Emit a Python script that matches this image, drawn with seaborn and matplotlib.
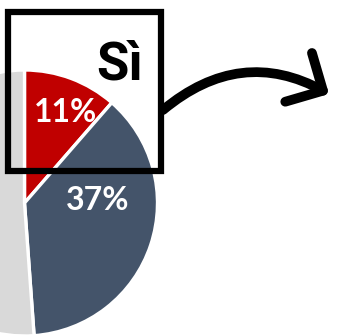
import matplotlib
matplotlib.use('Agg')
import matplotlib.pyplot as plt
import seaborn as sns
from matplotlib.patches import Rectangle, FancyArrowPatch

sns.set_style("white")

# Pie data (share of answers)
shares = [11.4, 37.45, 51.15]
share_labels = ['11%', '37%', '']
colors = ['#C00000', '#44546A', '#D9D9D9']
box_title = 'Sì'

W, H = 339, 335
fig = plt.figure(figsize=(W / 100, H / 100), dpi=100)
ax = fig.add_axes([0, 0, 1, 1])

# pie, cut by the left/bottom border
ax.pie(shares, colors=colors, startangle=90, counterclock=False,
       center=(24.5, H - 203), radius=133, frame=True,
       wedgeprops=dict(edgecolor='white', linewidth=2.4))
ax.set_xlim(0, W)
ax.set_ylim(0, H)
ax.set_aspect('equal')
ax.axis('off')

ax.text(66, H - 112, share_labels[0], color='white', fontsize=23,
        family='Lato', fontweight='bold', ha='center', va='center')
ax.text(98, H - 201, share_labels[1], color='white', fontsize=23,
        family='Lato', fontweight='bold', ha='center', va='center')

# highlight box
ax.add_patch(Rectangle((8, H - 171), 153, 159, fill=False,
                       edgecolor='black', linewidth=4.5))
ax.text(120, H - 65, box_title, fontsize=38, fontweight='bold',
        family=['Roboto', 'DejaVu Sans'],
        ha='center', va='center', color='black')

# curved arrow
arrow = FancyArrowPatch((163, H - 110), (329, H - 94),
                        connectionstyle='arc3,rad=-0.34',
                        arrowstyle='->,head_length=20,head_width=20',
                        mutation_scale=1, color='black', linewidth=7,
                        capstyle='round', joinstyle='round',
                        shrinkA=0, shrinkB=0)
ax.add_patch(arrow)

plt.savefig('out.png', dpi=100)
